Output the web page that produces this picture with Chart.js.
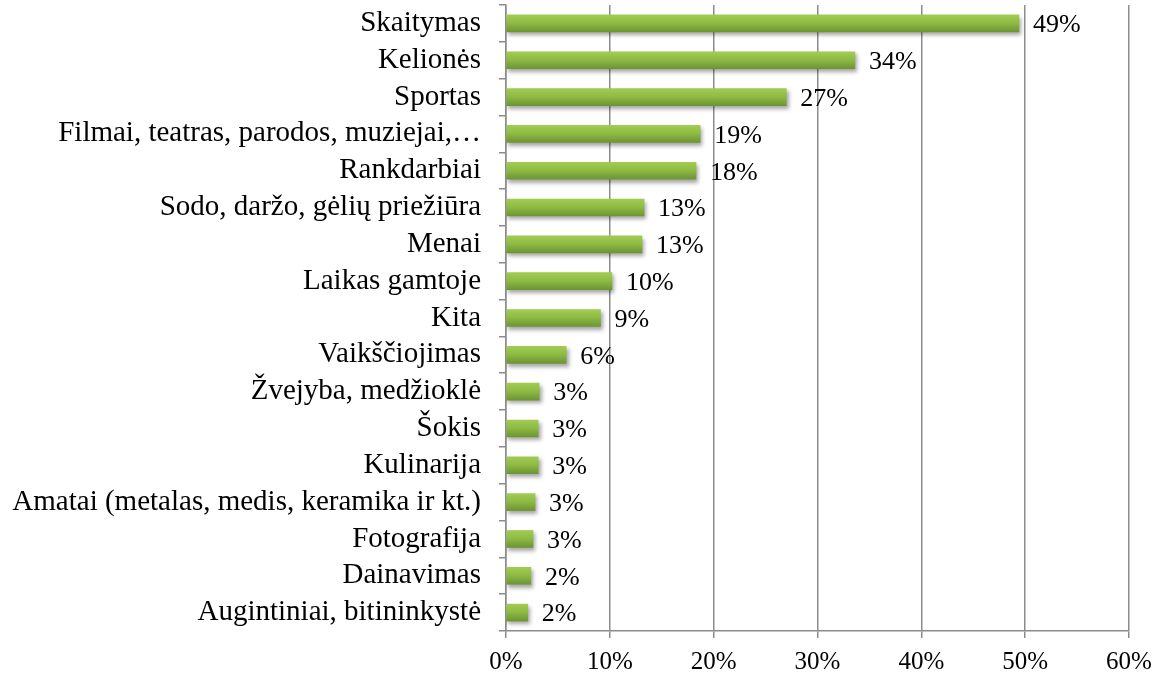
<!DOCTYPE html>
<html>
<head>
<meta charset="utf-8">
<script src="https://cdn.jsdelivr.net/npm/chart.js@4/dist/chart.umd.min.js"></script>
<style>
    html, body { margin: 0; padding: 0; background: #fff; }
    #wrap { width: 1161px; height: 674px; }
</style>
</head>
<body>
<div id="wrap"><canvas id="chart"></canvas></div>
<script>
/* Hobbies chart */

const categories = [
    "Skaitymas",
    "Kelionės",
    "Sportas",
    "Filmai, teatras, parodos, muziejai,…",
    "Rankdarbiai",
    "Sodo, daržo, gėlių priežiūra",
    "Menai",
    "Laikas gamtoje",
    "Kita",
    "Vaikščiojimas",
    "Žvejyba, medžioklė",
    "Šokis",
    "Kulinarija",
    "Amatai (metalas, medis, keramika ir kt.)",
    "Fotografija",
    "Dainavimas",
    "Augintiniai, bitininkystė"
];
const shares = [49.4, 33.6, 27.0, 18.7, 18.3, 13.3, 13.1, 10.2, 9.1, 5.8, 3.2, 3.1, 3.1, 2.8, 2.6, 2.4, 2.1];
const xTicks = [0, 10, 20, 30, 40, 50, 60];

const serif = "'Liberation Serif', 'Times New Roman', serif";
const gridGray = "#8c8c8c";

/* Gradient + drop shadow on the bars */
const barStyle = {
    id: "barStyle",
    beforeDatasetDraw(chart) {
        const ctx = chart.ctx;
        chart.getDatasetMeta(0).data.forEach((bar) => {
            const g = ctx.createLinearGradient(0, bar.y - bar.height / 2, 0, bar.y + bar.height / 2);
            g.addColorStop(0, "#a2cb53");
            g.addColorStop(0.45, "#8fbc44");
            g.addColorStop(1, "#6d9533");
            bar.options.backgroundColor = g;
        });
        ctx.save();
        ctx.shadowColor = "rgba(0,0,0,0.35)";
        ctx.shadowBlur = 4;
        ctx.shadowOffsetX = 2;
        ctx.shadowOffsetY = 3;
    },
    afterDatasetDraw(chart) {
        chart.ctx.restore();
    }
};

/* Percent labels to the right of each bar */
const valueLabels = {
    id: "valueLabels",
    afterDatasetsDraw(chart) {
        const ctx = chart.ctx;
        ctx.save();
        ctx.font = "26px " + serif;
        ctx.fillStyle = "#000";
        ctx.textAlign = "left";
        ctx.textBaseline = "middle";
        chart.getDatasetMeta(0).data.forEach((bar, i) => {
            ctx.fillText(Math.round(shares[i]) + "%", bar.x + 14, bar.y + 2);
        });
        ctx.restore();
    }
};

new Chart(document.getElementById("chart"), {
    type: "bar",
    data: {
        labels: categories,
        datasets: [{
            data: shares,
            // scriptable so every bar gets its own options object
            backgroundColor: () => "#8fbc44",
            barThickness: 17,
            borderWidth: 0
        }]
    },
    options: {
        indexAxis: "y",
        responsive: true,
        maintainAspectRatio: false,
        animation: false,
        layout: { padding: { top: 5, right: 32, left: 0, bottom: 0 } },
        plugins: {
            legend: { display: false },
            tooltip: { enabled: false }
        },
        scales: {
            x: {
                min: 0,
                max: 60,
                afterBuildTicks: (scale) => {
                    scale.ticks = xTicks.map((v) => ({ value: v }));
                },
                afterFit: (scale) => { scale.height = 43; },
                ticks: {
                    callback: (v) => v + "%",
                    color: "#000",
                    font: { family: serif, size: 25 },
                    padding: 9,
                    maxRotation: 0
                },
                grid: {
                    color: gridGray,
                    lineWidth: 1.5,
                    tickLength: 7
                },
                border: { color: gridGray, width: 1.5 }
            },
            y: {
                afterFit: (scale) => {
                    scale.width = 506;
                    scale.paddingTop = 0;
                    scale.paddingBottom = 0;
                },
                ticks: {
                    color: "#000",
                    font: { family: serif, size: 29 },
                    padding: 18,
                    autoSkip: false
                },
                grid: {
                    offset: true,
                    drawOnChartArea: false,
                    color: gridGray,
                    lineWidth: 1.5,
                    tickLength: 7
                },
                border: { color: gridGray, width: 1.5 }
            }
        }
    },
    plugins: [barStyle, valueLabels]
});
</script>
</body>
</html>
